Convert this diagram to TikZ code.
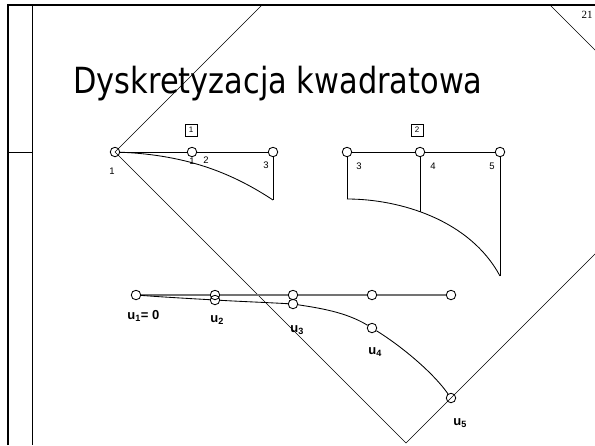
\documentclass[tikz,border=0pt]{standalone}
\usepackage{fontspec}
\setmainfont{Liberation Sans}
\newfontfamily\titlefont{DejaVu Sans}
\newfontfamily\pagefont{Liberation Serif}
\usetikzlibrary{positioning,calc}
\tikzset{
  knot/.style   = {draw, circle, inner sep=0pt, minimum size=9.5pt},
  numlab/.style = {font=\fontsize{9.5}{10}\selectfont, inner sep=0pt},
  ulab/.style   = {font=\fontsize{13}{14}\selectfont\bfseries, inner sep=0pt, anchor=base west},
  elbox/.style  = {draw, inner sep=0pt, minimum size=12pt, font=\fontsize{8}{9}\selectfont},
  frame/.style  = {line width=2.4pt},
}

\begin{document}
\begin{tikzpicture}[x=1pt,y=-1pt,line width=0.85pt]
\useasboundingbox (0,0) rectangle (595,445);
% slide frame
\draw[frame] (8,445) -- (8,5) -- (595,5);
\draw[line width=0.6pt] (32,5) -- (32,445);
\draw[line width=0.6pt] (8,152) -- (32,152);
\node[font=\pagefont\fontsize{11}{12}\selectfont] (page) at (587,15) {21};
% diamond
\begin{scope}
\clip (8,5) rectangle (595,445);
\draw[line width=0.6pt] (115,152) -- (406,-139) -- (697,152) -- (406,443) -- cycle;
\end{scope}
\node[anchor=base west,inner sep=0pt] (title) at (73,93)
  {\titlefont\fontsize{36}{40}\selectfont\scalebox{0.845}[1]{Dyskretyzacja kwadratowa}};
% element 1
\node[elbox] (box1) at (191,130) {1};
\node[knot] (N1) at (115,152) {};
\node[knot] (N2) at (192,152) {};
\node[knot] (N3) at (273,152) {};
\node[numlab] (l1) at (112,171) {1};
\node[numlab] (l1b) at (192,161) {1};
\node[numlab] (l2) at (206,160) {2};
\node[numlab] (l3) at (266,165) {3};
\coordinate (e1) at (273,200);
\draw (N1) -- (N2) -- (N3);
\draw (N3) -- (e1);
\draw (N1) .. controls (190,155) and (235,175) .. (e1);
% element 2
\node[elbox] (box2) at (417,130) {2};
\node[knot] (M3) at (347,152) {};
\node[knot] (M4) at (420,152) {};
\node[knot] (M5) at (500,152) {};
\node[numlab] (m3) at (359,166) {3};
\node[numlab] (m4) at (433,166) {4};
\node[numlab] (m5) at (492,166) {5};
\coordinate (f3) at (347,199);
\coordinate (f4) at (420,212);
\coordinate (f5) at (500,276);
\draw (M3) -- (M4) -- (M5);
\draw (M3) -- (f3);
\draw (M4) -- (f4);
\draw (M5) -- (f5);
\draw (f3) .. controls (400,199) and (470,220) .. (f5);
% mesh before and after
\node[knot] (T1) at (136,295) {};
\node[knot] (T2) at (215,295) {};
\node[knot] (T3) at (293,295) {};
\node[knot] (T4) at (372,295) {};
\node[knot] (T5) at (451,295) {};
\node[knot] (V2) at (215,300) {};
\node[knot] (V3) at (293,304) {};
\node[knot] (V4) at (372,328) {};
\node[knot] (V5) at (451,398) {};
\draw[gray!90!black, line width=1.1pt] (T1) -- (T2) -- (T3) -- (T4) -- (T5);
\draw (T1) .. controls (162,297) and (189,298.5) .. (V2);
\draw (V2) .. controls (241,301.5) and (267,302.5) .. (V3);
\draw (V3) .. controls (319,308) and (346,312) .. (V4);
\draw (V4) .. controls (398,344) and (431,370) .. (V5);
\node[ulab] (u1) at (127,319) {u\textsubscript{1}= 0};
\node[ulab] (u2) at (210,322) {u\textsubscript{2}};
\node[ulab] (u3) at (290,332) {u\textsubscript{3}};
\node[ulab] (u4) at (368,354) {u\textsubscript{4}};
\node[ulab] (u5) at (453,425) {u\textsubscript{5}};
\end{tikzpicture}
\end{document}
